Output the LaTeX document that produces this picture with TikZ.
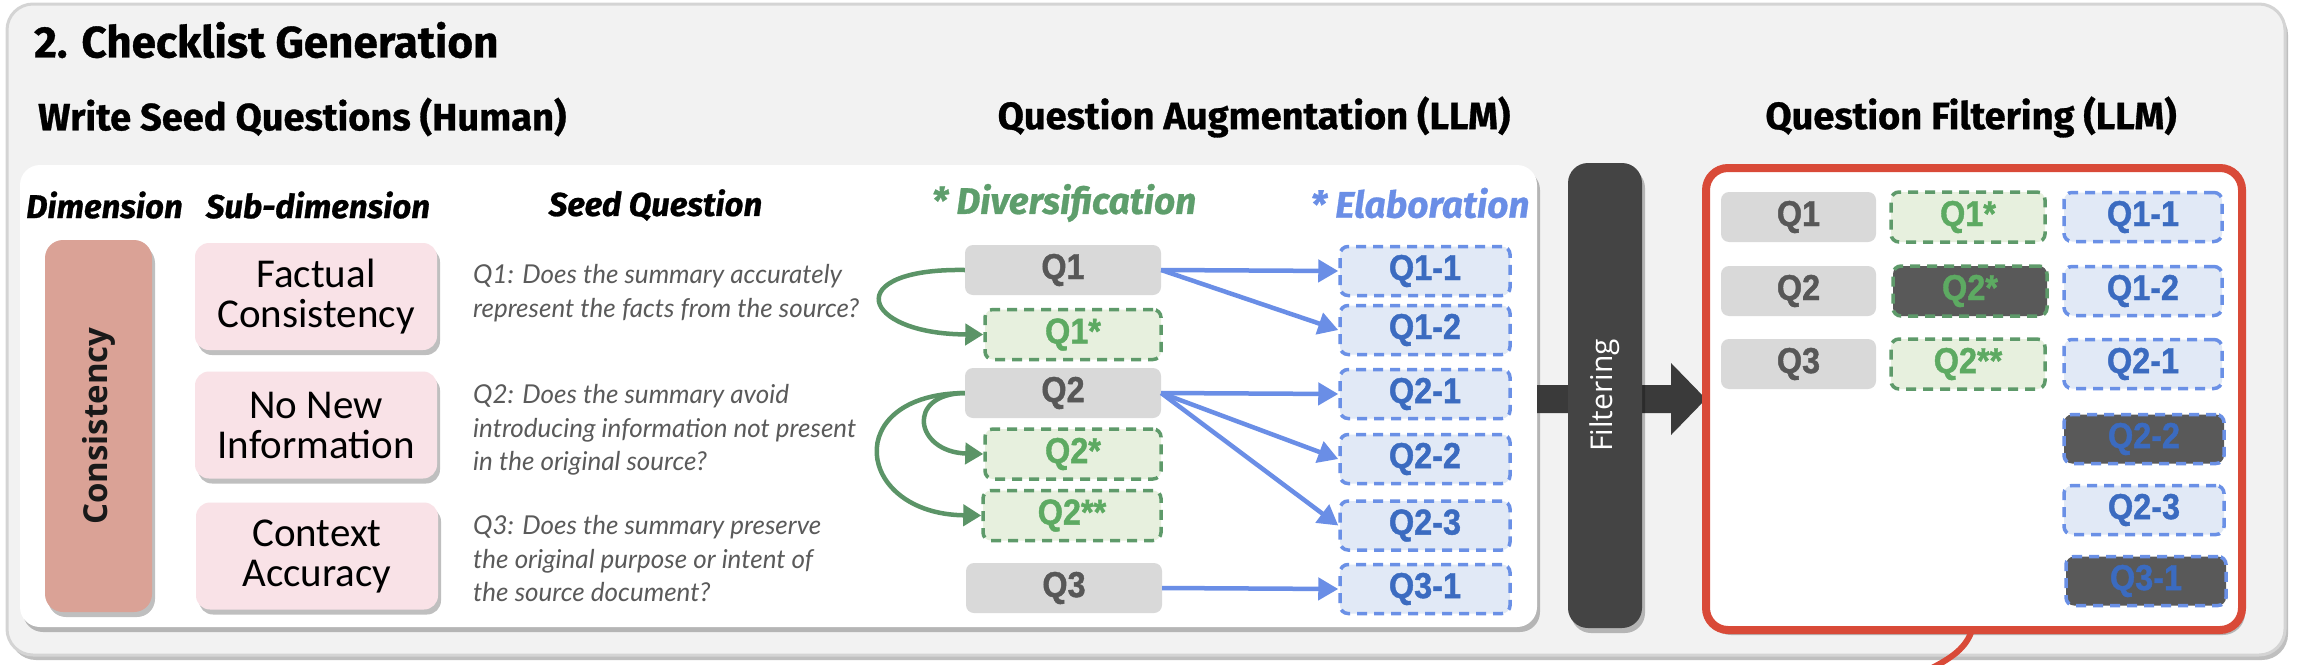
\documentclass[tikz,border=0pt]{standalone}
\usepackage{fontspec}
\setmainfont{Liberation Sans}
\newfontfamily\hfont[FakeBold=0.8]{Fira Sans}
\newfontfamily\qfont[FakeStretch=0.9,FakeBold=1.2]{Liberation Sans}
\newfontfamily\latofont{Lato}
\newfontfamily\carfont{Carlito}
\newfontfamily\osfont{Open Sans}
\usetikzlibrary{arrows.meta,shadows}
\definecolor{panelbg}{HTML}{F2F2F2}
\definecolor{panelbd}{HTML}{D4D4D4}
\definecolor{consfill}{HTML}{DAA296}
\definecolor{subfill}{HTML}{F9E2E7}
\definecolor{qgray}{HTML}{D9D9D9}
\definecolor{qgraytxt}{HTML}{575757}
\definecolor{gfill}{HTML}{E7F0DE}
\definecolor{gborder}{HTML}{5E9A6A}
\definecolor{gtext}{HTML}{5DAA62}
\definecolor{bfill}{HTML}{E1E9F6}
\definecolor{bborder}{HTML}{6A90E6}
\definecolor{btext}{HTML}{3B6BC0}
\definecolor{darkfill}{HTML}{595959}
\definecolor{barfill}{HTML}{444444}
\definecolor{bigarrow}{HTML}{3A3A3A}
\definecolor{redbd}{HTML}{D94A38}
\definecolor{seedtxt}{HTML}{5A5A5A}
\definecolor{garrow}{HTML}{5B9467}
\definecolor{barrow}{HTML}{6A8EE6}
\definecolor{divc}{HTML}{5E9E6C}
\definecolor{elabc}{HTML}{6A8EE6}
\tikzset{
  shad/.style={drop shadow={shadow xshift=3pt,shadow yshift=-5pt,opacity=.25,fill=black}},
  title/.style={font=\hfont\bfseries\fontsize{44}{52}\selectfont, anchor=west, inner sep=0pt},
  sect/.style={font=\hfont\bfseries\fontsize{38}{44}\selectfont, inner sep=0pt},
  colhead/.style={font=\hfont\bfseries\itshape\fontsize{33}{40}\selectfont, inner sep=0pt},
  bighead/.style={font=\hfont\bfseries\itshape\fontsize{37}{44}\selectfont, inner sep=0pt},
  consbox/.style={fill=consfill, rounded corners=18pt, minimum width=107pt, minimum height=372pt, shad},
  subbox/.style={fill=subfill, rounded corners=14pt, minimum width=242pt, minimum height=107pt, shad,
     align=center, font=\carfont\fontsize{41}{40}\selectfont},
  seed/.style={anchor=west, align=left, text=seedtxt, inner sep=0pt,
     font=\latofont\itshape\fontsize{26}{33.5}\selectfont},
  qlab/.style={font=\qfont\bfseries\fontsize{36}{40}\selectfont, inner sep=0pt},
  qg/.style={qlab, fill=qgray, text=qgraytxt, rounded corners=8pt, minimum height=50pt},
  qgreen/.style={qlab, fill=gfill, draw=gborder, line width=3.5pt, dash pattern=on 10pt off 7pt,
     text=gtext, rounded corners=8pt, minimum height=50pt},
  qblue/.style={qlab, fill=bfill, draw=bborder, line width=3.5pt, dash pattern=on 10pt off 7pt,
     text=btext, rounded corners=8pt, minimum height=49pt},
  barr/.style={draw=barrow, line width=4.5pt, -{Triangle[length=20pt,width=22pt]}},
  garr/.style={draw=garrow, line width=4.5pt, -{Triangle[length=18pt,width=21pt]}},
}
\begin{document}
\begin{tikzpicture}[x=1pt,y=-1pt]
\useasboundingbox (0,0) rectangle (2298,664);
% outer panel
\node (outer) [fill=panelbg, draw=panelbd, line width=3pt, rounded corners=26pt,
   minimum width=2278pt, minimum height=651pt, shad] at (1146,329.5) {};
\node (ttl) [title] at (34,40) {2. Checklist Generation};
\node (s1) [sect, anchor=west] at (38,117) {Write Seed Questions (Human)};
\node (s2) [sect] at (1254,117) {Question Augmentation (LLM)};
\node (s3) [sect] at (1971,117) {Question Filtering (LLM)};
% white panel
\node (wp) [fill=white, rounded corners=20pt, minimum width=1517pt, minimum height=462pt, shad]
   at (778.5,396) {};
% big arrow behind the filtering bar
\fill[bigarrow] (1537,385) -- (1671,385) -- (1671,363) -- (1706,399) -- (1671,435)
   -- (1671,413) -- (1537,413) -- cycle;
% filtering bar
\node (bar) [fill=barfill, rounded corners=20pt, minimum width=74pt, minimum height=465pt, shad]
   at (1605,395.5) {};
\node (bart) [rotate=90, text=white, font=\osfont\fontsize{30}{34}\selectfont, inner sep=0pt]
   at (bar.center) {Filtering};
% column headers
\node (h1) [colhead] at (104.5,205) {Dimension};
\node (h2) [colhead] at (318,205) {Sub-dimension};
\node (h3) [colhead] at (655.5,205) {Seed Question};
\node (h4) [bighead, text=divc] at (1064,203) {* Diversification};
\node (h5) [bighead, text=elabc] at (1420,203) {* Elaboration};
% dimension
\node (cons) [consbox] at (98.5,426) {};
\node [rotate=90, font=\osfont\bfseries\fontsize{33}{36}\selectfont, text=black!90, inner sep=0pt]
   at (cons.center) {Consistency};
% sub-dimensions
\node (sd1) [subbox] at (316,296.5) {Factual\\Consistency};
\node (sd2) [subbox] at (316,425) {No New\\Information};
\node (sd3) [subbox] at (317,556) {Context\\Accuracy};
% seed questions
\node (sq1) [seed] at (473,293) {Q1: Does the summary accurately\\represent the facts from the source?};
\node (sq2) [seed] at (473,430) {Q2: Does the summary avoid\\introducing information not present\\in the original source?};
\node (sq3) [seed] at (473,559) {Q3: Does the summary preserve\\the original purpose or intent of\\the source document?};
% seed Q boxes
\node (q1) [qg, minimum width=196pt] at (1063,270) {Q1};
\node (q2) [qg, minimum width=196pt] at (1063,393) {Q2};
\node (q3) [qg, minimum width=196pt] at (1064,588) {Q3};
% diversified
\node (q1s) [qgreen, minimum width=176pt] at (1073,334.5) {Q1*};
\node (q2s) [qgreen, minimum width=176pt] at (1073,454) {Q2*};
\node (q2ss) [qgreen, minimum width=178pt] at (1072,515.5) {Q2**};
% elaborated
\node (e11) [qblue, minimum width=170pt] at (1425,271) {Q1-1};
\node (e12) [qblue, minimum width=170pt] at (1425,330) {Q1-2};
\node (e21) [qblue, minimum width=170pt] at (1425,394) {Q2-1};
\node (e22) [qblue, minimum width=170pt] at (1425,459) {Q2-2};
\node (e23) [qblue, minimum width=170pt] at (1425,525.5) {Q2-3};
\node (e31) [qblue, minimum width=170pt] at (1425,589) {Q3-1};
% blue arrows
\draw[barr] (q1.east) -- (e11.west);
\draw[barr] (q1.east) -- (e12.west);
\draw[barr] (q2.east) -- (e21.west);
\draw[barr] (q2.east) -- (e22.west);
\draw[barr] (q2.east) -- (e23.west);
\draw[barr] (q3.east) -- (e31.west);
% green arrows
\draw[garr] (q1.west) .. controls (840,268) and (860,334) .. (q1s.west);
\draw[garr] (q2.west) .. controls (905,394) and (915,452) .. (q2s.west);
\draw[garr] (q2.west) .. controls (840,394) and (855,514) .. (q2ss.west);
% red panel
\node (red) [fill=white, draw=redbd, line width=8pt, rounded corners=22pt,
   minimum width=536pt, minimum height=462pt, shad] at (1974,399) {};
\draw[redbd, line width=6pt] (1972,630) .. controls (1966,648) and (1952,658) .. (1928,670);
% filtered results
\node (f1) [qg, minimum width=155pt] at (1798.5,217) {Q1};
\node (f2) [qg, minimum width=155pt] at (1798.5,291) {Q2};
\node (f3) [qg, minimum width=155pt] at (1798.5,364) {Q3};
\node (g1) [qgreen, minimum width=154pt] at (1968,217) {Q1*};
\node (g2) [qgreen, minimum width=154pt, fill=darkfill] at (1970,291) {Q2*};
\node (g3) [qgreen, minimum width=154pt] at (1968,364) {Q2**};
\node (b1) [qblue, minimum width=158pt] at (2143,217) {Q1-1};
\node (b2) [qblue, minimum width=158pt] at (2143,291) {Q1-2};
\node (b3) [qblue, minimum width=158pt] at (2143,364) {Q2-1};
\node (b4) [qblue, minimum width=160pt, fill=darkfill] at (2144,439) {Q2-2};
\node (b5) [qblue, minimum width=160pt] at (2144,510) {Q2-3};
\node (b6) [qblue, minimum width=160pt, fill=darkfill] at (2146,581) {Q3-1};
\end{tikzpicture}
\end{document}
